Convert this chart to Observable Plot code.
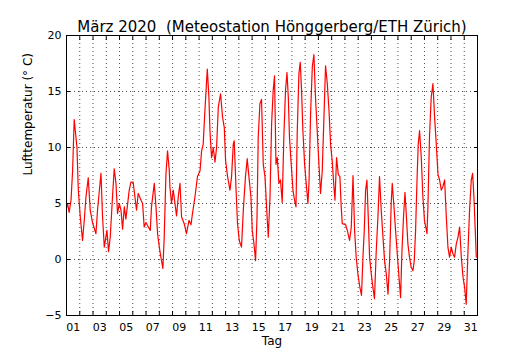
<!DOCTYPE html>
<html>
<head>
<meta charset="utf-8">
<script src="https://cdn.jsdelivr.net/npm/d3@7"></script>
<script src="https://cdn.jsdelivr.net/npm/@observablehq/plot@0.6"></script>
<style>
  html, body { margin: 0; padding: 0; background: #fff; }
  #chart svg { display: block; }
</style>
</head>
<body>
<div id="chart"></div>
<script>
const titleText = "März 2020  (Meteostation Hönggerberg/ETH Zürich)";
const xLabel = "Tag";
const yLabel = "Lufttemperatur (° C)";

// time in days since 1 March 2020 00:00
const timeDays = [
  0.00, 0.08, 0.20, 0.34, 0.46, 0.58, 0.79, 0.89, 1.04, 1.21, 1.34, 1.47, 1.64, 1.79, 1.96,
  2.22, 2.34, 2.60, 2.72, 2.85, 3.05, 3.17, 3.30, 3.47, 3.60, 3.73, 3.85, 3.98,
  4.11, 4.23, 4.36, 4.48, 4.73, 4.86, 5.03, 5.16, 5.28, 5.41, 5.62, 5.74, 5.86, 5.99,
  6.17, 6.32, 6.41, 6.62, 6.75, 6.87, 7.00, 7.12, 7.27, 7.37, 7.50, 7.62, 7.75, 7.80, 7.92,
  8.05, 8.18, 8.30, 8.43, 8.56, 8.68, 8.88, 9.05, 9.24, 9.39, 9.49, 9.69, 9.88,
  10.07, 10.19, 10.31, 10.44, 10.62, 10.74, 10.82, 10.94, 11.07, 11.20, 11.32, 11.45, 11.62, 11.77, 11.90,
  12.00, 12.15, 12.33, 12.45, 12.58, 12.65, 12.78, 12.90, 13.03, 13.20, 13.35, 13.50, 13.63, 13.76, 13.91,
  14.01, 14.14, 14.26, 14.37, 14.46, 14.59, 14.71, 14.84, 14.97, 15.09, 15.22, 15.35, 15.47, 15.59, 15.69, 15.80, 15.90,
  16.02, 16.14, 16.27, 16.40, 16.52, 16.63, 16.73, 16.82, 16.95, 17.08, 17.20, 17.31, 17.40, 17.53, 17.63, 17.73, 17.83, 17.96,
  18.08, 18.21, 18.29, 18.41, 18.54, 18.66, 18.78, 18.91, 19.04, 19.16, 19.29, 19.42, 19.54, 19.67, 19.80, 19.92,
  20.04, 20.17, 20.25, 20.37, 20.50, 20.62, 20.72, 20.80, 21.05, 21.18, 21.35, 21.48, 21.61, 21.73, 21.85, 21.98,
  22.13, 22.25, 22.36, 22.46, 22.56, 22.66, 22.76, 22.86, 22.99, 23.11, 23.23, 23.36, 23.49, 23.61, 23.74, 23.87, 23.99,
  24.12, 24.25, 24.37, 24.49, 24.57, 24.70, 24.82, 24.95, 25.08, 25.20, 25.30, 25.42, 25.53, 25.63, 25.75, 25.87,
  26.00, 26.13, 26.23, 26.33, 26.43, 26.53, 26.63, 26.76, 26.88, 27.00, 27.19, 27.26, 27.38, 27.51, 27.64, 27.76, 27.89,
  28.02, 28.14, 28.27, 28.39, 28.52, 28.64, 28.77, 28.89, 29.02, 29.15, 29.27, 29.40, 29.53, 29.65, 29.78, 29.91,
  30.03, 30.15, 30.28, 30.40, 30.53, 30.63, 30.73, 30.83, 30.91
];
const temperature = [
  4.6, 5.0, 4.2, 5.3, 7.9, 12.5, 10.0, 6.2, 3.8, 1.7, 3.5, 5.6, 7.3, 4.4, 3.3,
  2.3, 4.4, 7.7, 3.8, 1.1, 2.6, 0.7, 2.0, 5.6, 8.1, 6.8, 4.1, 5.0,
  4.4, 2.7, 4.7, 3.6, 6.2, 6.9, 6.9, 5.6, 4.4, 5.9, 5.3, 5.0, 2.9, 3.3,
  2.9, 2.6, 4.7, 6.8, 4.7, 2.3, 1.1, 0.2, -0.8, 2.0, 7.6, 9.7, 8.0, 6.5, 5.0,
  6.2, 5.0, 3.9, 5.6, 6.8, 3.8, 3.2, 2.3, 3.5, 3.1, 4.0, 5.6, 7.4,
  7.9, 9.7, 10.3, 13.3, 17.0, 14.5, 11.5, 9.1, 10.0, 8.7, 10.0, 13.6, 14.8, 12.7, 11.8,
  8.8, 7.4, 6.2, 7.4, 10.3, 10.6, 6.5, 3.2, 1.7, 1.1, 4.7, 7.4, 9.0, 7.4, 5.6,
  2.6, 1.4, -0.1, 3.8, 10.9, 13.9, 14.3, 8.5, 7.4, 4.7, 2.0, 5.6, 12.1, 15.1, 16.4, 8.5, 9.1,
  6.8, 7.1, 5.1, 11.2, 15.1, 16.7, 14.5, 10.9, 8.5, 6.2, 5.3, 4.7, 11.2, 16.6, 17.6, 15.1, 11.5, 8.5,
  6.8, 5.0, 6.8, 13.0, 17.2, 18.3, 14.5, 11.5, 8.5, 5.9, 7.9, 12.8, 17.3, 15.7, 13.3, 10.3,
  8.8, 6.5, 5.3, 9.1, 7.6, 7.4, 4.7, 3.2, 3.1, 2.6, 1.7, 2.9, 7.5, 2.6, 0.2, -1.3,
  -2.5, -3.2, 0.2, 2.6, 6.2, 7.1, 3.8, 0.2, -1.3, -2.5, -3.5, 0.7, 3.8, 7.4, 4.4, 2.0, -0.1,
  -1.3, -3.1, -0.1, 5.0, 6.8, 4.7, 2.6, 0.5, -1.6, -3.4, 0.7, 3.8, 6.0, 4.0, 1.4, 0.2,
  -0.7, -1.0, -0.1, 2.6, 6.8, 10.3, 11.5, 9.1, 5.6, 3.5, 2.3, 4.7, 11.0, 14.5, 15.7, 12.8, 10.3,
  7.6, 7.1, 6.2, 6.5, 7.1, 4.0, 1.1, 0.2, 1.1, 0.5, 0.2, 1.4, 2.0, 2.9, 0.2, -1.6,
  -2.5, -4.0, 0.7, 4.4, 7.1, 7.7, 5.6, 2.6, 0.2
];

const dayLabels = ["01","03","05","07","09","11","13","15","17","19","21","23","25","27","29","31"];
const yTicks = [-5, 0, 5, 10, 15, 20];

const data = timeDays.map((t, i) => ({t, T: temperature[i]}));
// label k sits at noon of its day
const labelPos = dayLabels.map(s => +s - 0.5);
const dayBounds = d3.range(1, 31);

const chart = Plot.plot({
  width: 530,
  height: 350,
  marginLeft: 66,
  marginRight: 53,
  marginTop: 35,
  marginBottom: 35,
  style: {fontFamily: "DejaVu Sans, sans-serif", fontSize: "11px", color: "black", background: "white"},
  x: {domain: [0, 31], label: null},
  y: {domain: [-5, 20], label: null},
  marks: [
    Plot.gridX(dayBounds, {stroke: "black", strokeOpacity: 1, strokeWidth: 0.7, strokeDasharray: "1,3"}),
    Plot.gridY(yTicks.slice(1, -1), {stroke: "black", strokeOpacity: 1, strokeWidth: 0.7, strokeDasharray: "1,3"}),
    Plot.line(data, {x: "t", y: "T", stroke: "red", strokeWidth: 1.2}),
    Plot.axisX(labelPos, {anchor: "bottom", tickSize: 0, tickPadding: 8, tickFormat: (d, i) => dayLabels[i], fontSize: 11}),
    Plot.axisX(dayBounds, {anchor: "bottom", tickSize: -4, tickFormat: () => ""}),
    Plot.axisX(dayBounds, {anchor: "top", tickSize: -4, tickFormat: () => ""}),
    Plot.axisY(yTicks, {anchor: "left", tickSize: -4, tickPadding: 9, tickFormat: d => d < 0 ? "\u2212" + Math.abs(d) : String(d), fontSize: 11}),
    Plot.axisY(yTicks, {anchor: "right", tickSize: -4, tickFormat: () => ""}),
    Plot.frame({stroke: "black", strokeWidth: 1}),
    Plot.text([titleText], {frameAnchor: "top", dy: -14, fontSize: 15, fill: "black"}),
    Plot.text([xLabel], {frameAnchor: "bottom", dy: 29, fontSize: 12, fill: "black"}),
    Plot.text([yLabel], {frameAnchor: "left", dx: -38, rotate: -90, fontSize: 12, fill: "black"})
  ]
});
document.getElementById("chart").appendChild(chart);
</script>
</body>
</html>
